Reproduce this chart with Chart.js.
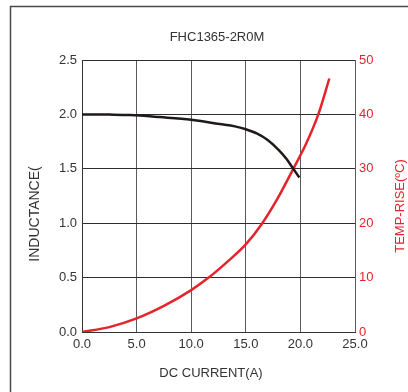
<!DOCTYPE html>
<html>
<head>
<meta charset="utf-8">
<script src="https://cdn.jsdelivr.net/npm/chart.js@4.4.1/dist/chart.umd.min.js"></script>
<style>
  html, body { margin: 0; padding: 0; background: #fff; }
  #chart { display: block; }
</style>
</head>
<body>
<canvas id="chart" width="408" height="392"></canvas>
<script>
// inductance vs DC current
var currentL = [0, 2.5, 4.4, 7.15, 10, 12.6, 14, 15, 16, 17, 18, 18.7, 19.35, 19.9];
var inductance = [2.0, 1.998, 1.994, 1.975, 1.951, 1.911, 1.89, 1.863, 1.825, 1.765, 1.675, 1.595, 1.50, 1.42];

// temperature rise vs DC current
var currentT = [0, 2.5, 5, 7.5, 10, 11.6, 13.3, 15, 16.45, 17.9, 19.35, 20.5, 21.64, 22.65];
var tempRise = [0, 0.9, 2.5, 4.8, 7.7, 10, 12.9, 16.1, 19.8, 24.5, 30, 34.5, 40, 46.6];

var xTicks = [0, 5, 10, 15, 20, 25];
var lTicks = [0, 0.5, 1.0, 1.5, 2.0, 2.5];
var rTicks = [0, 10, 20, 30, 40, 50];

var RED = "#e4232b";
var DARK = "#333333";
var FONT = "Arial, 'Liberation Sans', sans-serif";

function toPoints(xs, ys) {
    return xs.map(function (x, i) { return { x: x, y: ys[i] }; });
}

// outer frame plus title and axis titles
var decor = {
    id: "decor",
    beforeDraw: function (chart) {
        var ctx = chart.ctx;
        ctx.save();
        ctx.strokeStyle = "#4a4a4a";
        ctx.lineWidth = 1.5;
        ctx.strokeRect(10.5, 6.5, 600, 600);
        ctx.restore();
    },
    afterDraw: function (chart) {
        var ctx = chart.ctx;
        ctx.save();
        ctx.textAlign = "center";
        ctx.textBaseline = "middle";

        ctx.fillStyle = DARK;
        ctx.font = "13px " + FONT;
        ctx.fillText("FHC1365-2R0M", 217, 37);
        ctx.fillText("DC CURRENT(A)", 211, 373);

        ctx.save();
        ctx.translate(35, 214);
        ctx.rotate(-Math.PI / 2);
        ctx.font = "14px " + FONT;
        ctx.fillText("INDUCTANCE(", 0, 0);
        ctx.restore();

        ctx.save();
        ctx.translate(400.5, 206);
        ctx.rotate(-Math.PI / 2);
        ctx.fillStyle = RED;
        ctx.font = "13px " + FONT;
        ctx.fillText("TEMP-RISE(ºC)", 0, 0);
        ctx.restore();

        ctx.restore();
    }
};

var ctx = document.getElementById("chart").getContext("2d");
var fhcChart = new Chart(ctx, {
    type: "line",
    data: {
        datasets: [{
            label: "Inductance",
            data: toPoints(currentL, inductance),
            borderColor: "#1e1a19",
            borderWidth: 2.5,
            pointRadius: 0,
            cubicInterpolationMode: "monotone",
            yAxisID: "y"
        }, {
            label: "Temp rise",
            data: toPoints(currentT, tempRise),
            borderColor: RED,
            borderWidth: 2.5,
            pointRadius: 0,
            cubicInterpolationMode: "monotone",
            yAxisID: "y1"
        }]
    },
    options: {
        responsive: false,
        animation: false,
        devicePixelRatio: 1,
        layout: { padding: { top: 60, left: 0, right: 0, bottom: 0 } },
        plugins: {
            legend: { display: false },
            tooltip: { enabled: false }
        },
        scales: {
            x: {
                type: "linear",
                min: 0,
                max: 25,
                afterFit: function (s) { s.height = 60; },
                afterBuildTicks: function (s) { s.ticks = xTicks.map(function (v) { return { value: v }; }); },
                ticks: {
                    color: DARK,
                    font: { size: 13, family: FONT },
                    padding: 5,
                    maxRotation: 0,
                    callback: function (v) { return v.toFixed(1); }
                },
                grid: { color: "#5a5a5a", lineWidth: 1, drawTicks: false },
                border: { color: DARK, width: 1 }
            },
            y: {
                position: "left",
                min: 0,
                max: 2.5,
                afterFit: function (s) { s.width = 82; },
                afterBuildTicks: function (s) { s.ticks = lTicks.map(function (v) { return { value: v }; }); },
                ticks: {
                    color: DARK,
                    font: { size: 13, family: FONT },
                    padding: 5,
                    callback: function (v) { return v.toFixed(1); }
                },
                grid: { color: "#2e2e2e", lineWidth: 1, drawTicks: false },
                border: { color: DARK, width: 1 }
            },
            y1: {
                position: "right",
                min: 0,
                max: 50,
                afterFit: function (s) { s.width = 53; },
                afterBuildTicks: function (s) { s.ticks = rTicks.map(function (v) { return { value: v }; }); },
                ticks: {
                    color: RED,
                    font: { size: 13, family: FONT },
                    padding: 4
                },
                grid: { drawOnChartArea: false, drawTicks: false },
                border: { display: false }
            }
        }
    },
    plugins: [decor]
});
</script>
</body>
</html>
